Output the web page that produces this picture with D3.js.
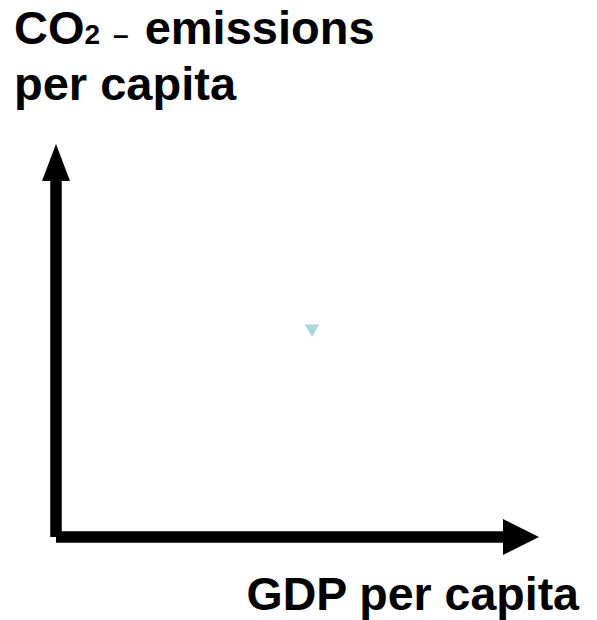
<!DOCTYPE html>
<html>
<head>
<meta charset="utf-8">
<script src="https://cdn.jsdelivr.net/npm/d3@7"></script>
<style>
  html, body { margin: 0; padding: 0; background: #fff; }
  svg { display: block; }
</style>
</head>
<body>
<script>
// ---- data ----
const yLabelParts = ["CO", "2", "\u2013", "emissions"];
const yLabelLine2 = "per capita";
const xLabel = "GDP per capita";
const pointsX = [53];
const pointsY = [53];
const xDomain = [0, 100];
const yDomain = [0, 100];

const W = 597, H = 620;
const svg = d3.select("body").append("svg").attr("width", W).attr("height", H);

const x = d3.scaleLinear().domain(xDomain).range([56, 539]);
const y = d3.scaleLinear().domain(yDomain).range([537, 144]);

const font = "'Liberation Sans', Arial, sans-serif";

// Y axis (vertical arrow)
const x0 = x(xDomain[0]), y0 = y(yDomain[0]);
const yTop = y(yDomain[1]), xRight = x(xDomain[1]);
const shaft = 11.5;
svg.append("line")
  .attr("x1", x0).attr("x2", x0)
  .attr("y1", y0).attr("y2", yTop + 36)
  .attr("stroke", "#000").attr("stroke-width", shaft);
svg.append("path")
  .attr("d", `M${x0 - 14},${yTop + 37} L${x0},${yTop} L${x0 + 14},${yTop + 37} Z`)
  .attr("fill", "#000");

// X axis (horizontal arrow)
svg.append("line")
  .attr("x1", x0).attr("x2", xRight - 35)
  .attr("y1", y0).attr("y2", y0)
  .attr("stroke", "#000").attr("stroke-width", shaft);
svg.append("path")
  .attr("d", `M${xRight - 36},${y0 - 18} L${xRight},${y0} L${xRight - 36},${y0 + 18} Z`)
  .attr("fill", "#000");

// points
const pts = pointsX.map((v, i) => ({ x: v, y: pointsY[i] }));
svg.selectAll("path.pt").data(pts).enter().append("path")
  .attr("class", "pt")
  .attr("d", d3.symbol().type(d3.symbolTriangle).size(88))
  .attr("transform", d => `translate(${x(d.x)},${y(d.y)}) rotate(180)`)
  .attr("fill", "#a6d6da");

// y label (title)
const t1 = svg.append("text")
  .attr("x", 14).attr("y", 44)
  .attr("font-family", font).attr("font-weight", "bold")
  .attr("font-size", 47).attr("fill", "#000");
t1.append("tspan").text(yLabelParts[0]);
t1.append("tspan").attr("font-size", 28).text(yLabelParts[1]);
t1.append("tspan").attr("font-size", 28).attr("dx", 13).text(yLabelParts[2]);
t1.append("tspan").attr("dx", 16).text(yLabelParts[3]);

svg.append("text")
  .attr("x", 14).attr("y", 100)
  .attr("font-family", font).attr("font-weight", "bold")
  .attr("font-size", 47).attr("fill", "#000")
  .text(yLabelLine2);

// x label
svg.append("text")
  .attr("x", 579).attr("y", 610)
  .attr("text-anchor", "end")
  .attr("font-family", font).attr("font-weight", "bold")
  .attr("font-size", 46.5).attr("fill", "#000")
  .text(xLabel);
</script>
</body>
</html>
